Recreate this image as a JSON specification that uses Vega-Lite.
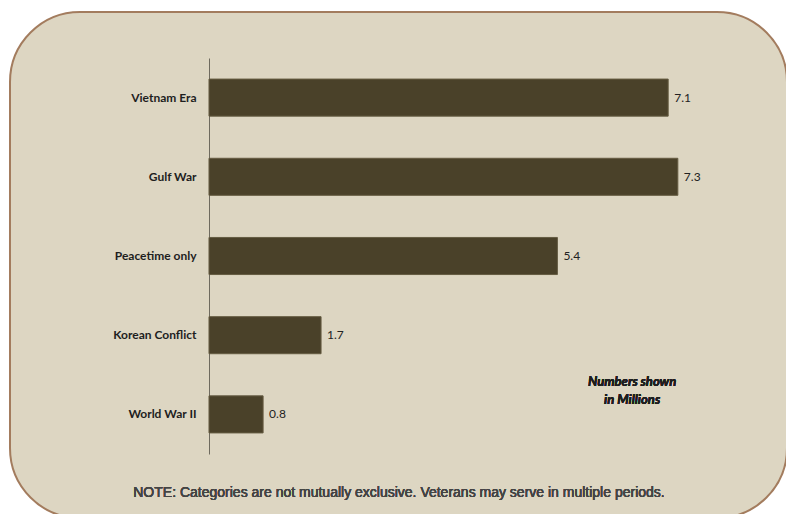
{
  "$schema": "https://vega.github.io/schema/vega-lite/v6.json",
  "width": 777,
  "height": 506,
  "autosize": {"type": "none"},
  "padding": {"left": 10, "top": 12, "right": -1, "bottom": -4},
  "background": "#ffffff",
  "config": {
    "view": {"fill": "#ddd6c2", "stroke": "#a37c5e", "strokeWidth": 2, "cornerRadius": 70},
    "font": "Lato"
  },
  "data": {
    "values": [
      {"period": "Vietnam Era", "millions": 7.13},
      {"period": "Gulf War", "millions": 7.28},
      {"period": "Peacetime only", "millions": 5.41},
      {"period": "Korean Conflict", "millions": 1.74},
      {"period": "World War II", "millions": 0.84}
    ]
  },
  "encoding": {
    "y": {
      "field": "period",
      "type": "nominal",
      "sort": null,
      "scale": {"range": [46, 442], "paddingInner": 0.532, "paddingOuter": 0.266},
      "axis": {
        "title": null,
        "offset": -199,
        "ticks": false,
        "domainColor": "#6e6a5e",
        "domainWidth": 1,
        "labelPadding": 13,
        "labelFont": "Lato",
        "labelFontWeight": "bold",
        "labelFontSize": 12,
        "labelColor": "#1e1e1e"
      }
    }
  },
  "layer": [
    {
      "mark": {"type": "bar", "fill": "#4a4129", "stroke": "#655c42", "strokeWidth": 1},
      "encoding": {
        "x": {
          "field": "millions",
          "type": "quantitative",
          "scale": {"domain": [-3.09, 8.975], "nice": false, "zero": false},
          "axis": null
        }
      }
    },
    {
      "mark": {"type": "text", "align": "left", "baseline": "middle", "dx": 6, "font": "Lato", "fontSize": 12, "color": "#222222"},
      "encoding": {
        "x": {"field": "millions", "type": "quantitative"},
        "text": {"field": "millions", "type": "quantitative", "format": ".1f"}
      }
    },
    {
      "mark": {"type": "text", "align": "center", "baseline": "middle", "dy": -32, "lineHeight": 18, "font": "Lato", "fontSize": 13, "fontStyle": "italic", "fontWeight": "bold", "color": "#1e1e1e"},
      "encoding": {
        "x": {"datum": 6.57},
        "y": {"datum": "World War II"},
        "text": {"value": ["Numbers shown", "in Millions"]}
      }
    },
    {
      "mark": {"type": "text", "align": "center", "baseline": "middle", "dy": 79, "font": "Liberation Sans", "fontSize": 14, "fontWeight": "normal", "color": "#444444"},
      "encoding": {
        "x": {"datum": 2.95},
        "y": {"datum": "World War II"},
        "text": {"value": "NOTE: Categories are not mutually exclusive.  Veterans may serve in multiple periods."}
      }
    }
  ]
}
